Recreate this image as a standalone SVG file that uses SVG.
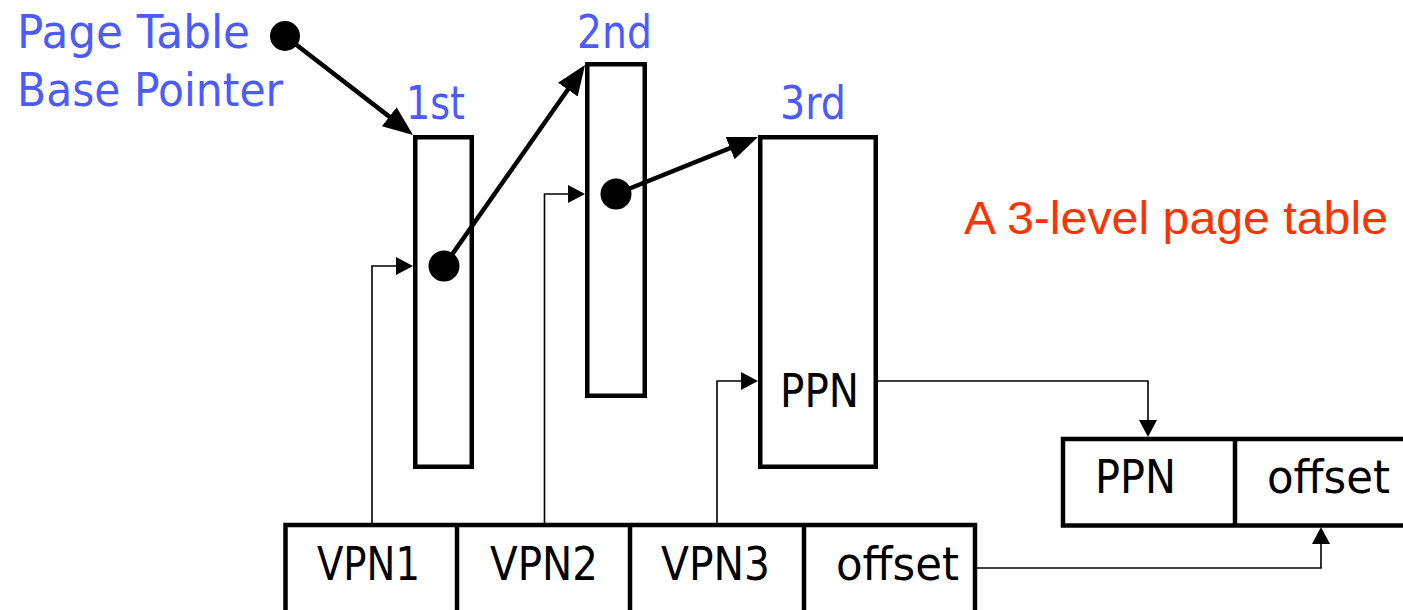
<svg xmlns="http://www.w3.org/2000/svg" width="1403" height="610" viewBox="0 0 1403 610">
<style>
  .box { fill: #ffffff; stroke: #000000; stroke-width: 4.5; }
  .div { stroke: #000000; stroke-width: 4.5; }
  .thick { fill: none; stroke: #000000; stroke-width: 4.5; }
  .thin { fill: none; stroke: #000000; stroke-width: 1.6; }
  .dot { fill: #000000; }
  text { font-family: "DejaVu Sans", "Liberation Sans", sans-serif; font-size: 47px; }
  .blue { fill: #4b5bff; }
  .red { fill: #ff3300; font-family: "Liberation Sans", "DejaVu Sans", sans-serif; font-size: 47px; }
  .blk { fill: #000000; }
</style>
<defs>
  <marker id="big" markerUnits="userSpaceOnUse" markerWidth="32" markerHeight="26" refX="20" refY="12" orient="auto">
    <path d="M0,0 L30,12 L0,24 z" fill="#000"/>
  </marker>
  <marker id="small" markerUnits="userSpaceOnUse" markerWidth="20" markerHeight="20" refX="12" refY="9" orient="auto">
    <path d="M0,0 L17,9 L0,18 z" fill="#000"/>
  </marker>
</defs>

<g id="labels">
  <text class="blue" x="17" y="48" textLength="233" lengthAdjust="spacingAndGlyphs">Page Table</text>
  <text class="blue" x="17" y="106" textLength="266" lengthAdjust="spacingAndGlyphs">Base Pointer</text>
  <text class="red" x="964" y="234" textLength="424" lengthAdjust="spacingAndGlyphs">A 3-level page table</text>
</g>

<g id="table1">
  <rect class="box" x="415.25" y="137.25" width="56.5" height="329.5"/>
  <text class="blue" x="406" y="119" textLength="59" lengthAdjust="spacingAndGlyphs">1st</text>
</g>
<g id="table2">
  <rect class="box" x="587.25" y="64.25" width="57.5" height="331.5"/>
  <text class="blue" x="577" y="48" textLength="75" lengthAdjust="spacingAndGlyphs">2nd</text>
</g>
<g id="table3">
  <rect class="box" x="760.25" y="137.25" width="115.5" height="329.5"/>
  <text class="blue" x="780" y="119" textLength="66" lengthAdjust="spacingAndGlyphs">3rd</text>
  <text class="blk" x="780" y="407" textLength="79" lengthAdjust="spacingAndGlyphs">PPN</text>
</g>

<g id="virtual-address">
  <rect class="box" x="285.5" y="525" width="689.5" height="100"/>
  <line class="div" x1="457" y1="525" x2="457" y2="615"/>
  <line class="div" x1="630" y1="525" x2="630" y2="615"/>
  <line class="div" x1="804" y1="525" x2="804" y2="615"/>
  <text class="blk" x="317" y="580" textLength="103" lengthAdjust="spacingAndGlyphs">VPN1</text>
  <text class="blk" x="490" y="580" textLength="108" lengthAdjust="spacingAndGlyphs">VPN2</text>
  <text class="blk" x="661" y="580" textLength="109" lengthAdjust="spacingAndGlyphs">VPN3</text>
  <text class="blk" x="836" y="580" textLength="123" lengthAdjust="spacingAndGlyphs">offset</text>
</g>

<g id="physical-address">
  <rect class="box" x="1063" y="439" width="360" height="86.5"/>
  <line class="div" x1="1235" y1="439" x2="1235" y2="525.5"/>
  <text class="blk" x="1095" y="493" textLength="81" lengthAdjust="spacingAndGlyphs">PPN</text>
  <text class="blk" x="1267" y="493" textLength="123" lengthAdjust="spacingAndGlyphs">offset</text>
</g>

<g id="connectors">
  <line class="thick" x1="285" y1="36" x2="405.1" y2="128.9" marker-end="url(#big)"/>
  <line class="thick" x1="444" y1="266" x2="579.3" y2="73.2" marker-end="url(#big)"/>
  <line class="thick" x1="616" y1="194" x2="748.7" y2="140.7" marker-end="url(#big)"/>
  <circle class="dot" cx="285" cy="36" r="15"/>
  <circle class="dot" cx="444" cy="266" r="15.5"/>
  <circle class="dot" cx="616" cy="194" r="15.5"/>
  <path class="thin" d="M372,525 V266 H408" marker-end="url(#small)"/>
  <path class="thin" d="M544.5,525 V194 H580" marker-end="url(#small)"/>
  <path class="thin" d="M717,525 V381 H753" marker-end="url(#small)"/>
  <path class="thin" d="M878,381 H1148 V432" marker-end="url(#small)"/>
  <path class="thin" d="M977,568 H1321 V532" marker-end="url(#small)"/>
</g>
</svg>
